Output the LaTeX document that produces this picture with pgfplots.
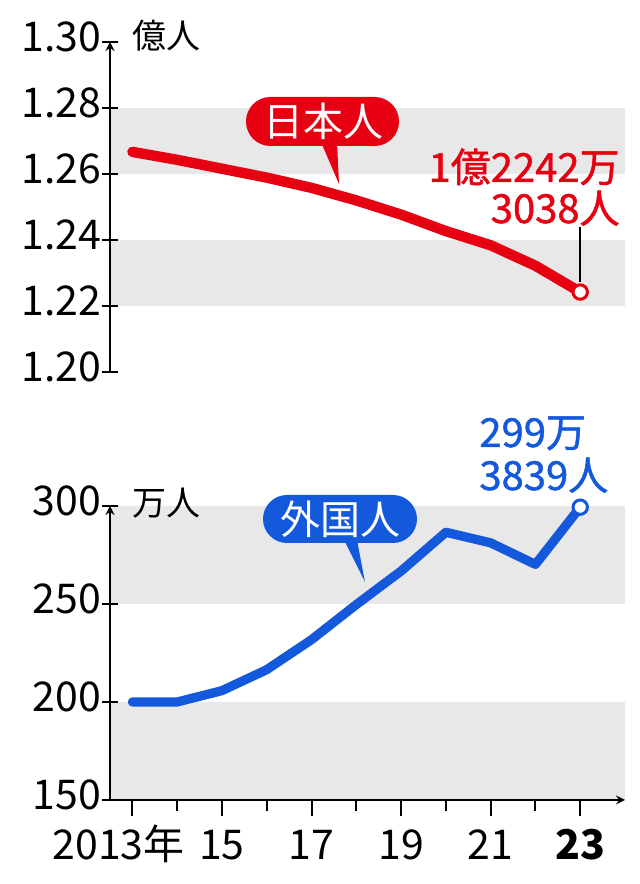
\documentclass[border=0pt]{standalone}
\usepackage{fontspec}
\setmainfont{Noto Sans CJK JP}
\newfontfamily\labfam{Noto Sans CJK JP}[FakeBold=1.2]
\usepackage{pgfplots}
\pgfplotsset{compat=1.18}

\definecolor{jred}{HTML}{E60012}
\definecolor{jblue}{HTML}{1459DC}
\definecolor{band}{HTML}{E8E8E8}

\newcommand\tickf{\fontsize{20.5}{24}\selectfont}
\newcommand\bubf{\fontsize{20}{24}\selectfont}
\newcommand\labf{\labfam\fontsize{20}{24}\selectfont}
\newcommand\unitf{\fontsize{17}{20}\selectfont}

% x is the year within 2000s (13 = 2013)
\pgfplotsset{
  panel/.style={
    scale only axis,
    width=257.5pt,
    xmin=12.5, xmax=24,
    axis on top,
    clip=false,
    axis line style={-, line width=1pt, black},
    tick style={line width=1pt, black},
    major tick length=8pt,
    minor tick length=5.5pt,
    ytick align=inside,
    ticklabel style={font=\tickf},
    yticklabel style={xshift=3pt, yshift=2.5pt},
  }
}

\begin{document}
\begin{tikzpicture}
\useasboundingbox (0,0) rectangle (320pt,442pt);

% Japanese nationals, in 100 millions
\begin{axis}[panel,
  at={(55pt,256pt)}, anchor=south west,
  height=165pt,
  ymin=1.20, ymax=1.30,
  axis x line=none, axis y line=left,
  ytick={1.2,1.22,1.24,1.26,1.28,1.3},
  yticklabels={1.20,1.22,1.24,1.26,1.28,1.30},
]
\fill[band] (axis cs:12.5,1.26) rectangle (axis cs:24,1.28);
\fill[band] (axis cs:12.5,1.22) rectangle (axis cs:24,1.24);
\addplot[jred, line width=5.2pt, line join=round, line cap=round] coordinates {
  (13,1.2667) (14,1.2643) (15,1.2616) (16,1.2589) (17,1.2558)
  (18,1.2520) (19,1.2477) (20,1.2427) (21,1.2384) (22,1.2322)
  (23,1.22423)
};
\draw[black, line width=0.9pt] ([yshift=5pt]axis cs:23,1.22423) -- ([yshift=32.5pt]axis cs:23,1.22423);
\addplot[only marks, mark=*, mark size=3.6pt,
  mark options={fill=white, draw=jred, line width=1.5pt}] coordinates {(23,1.22423)};
\end{axis}

% foreign residents, in 10 thousands
\begin{axis}[panel,
  at={(55pt,42pt)}, anchor=south west,
  height=147pt,
  ymin=150, ymax=300,
  axis x line=bottom, axis y line=left,
  ytick={150,200,250,300},
  yticklabels={150,200,250,300},
  xtick={13,15,...,23},
  xticklabels={2013年\rule{13.7pt}{0pt},15,17,19,21,\textbf{23}},
  minor xtick={14,16,...,22},
  xtick align=outside,
  xticklabel style={anchor=base, yshift=-22pt},
]
\fill[band] (axis cs:12.5,250) rectangle (axis cs:24,300);
\fill[band] (axis cs:12.5,150) rectangle (axis cs:24,200);
\addplot[jblue, line width=4.6pt, line join=round, line cap=round] coordinates {
  (13,200.0) (14,200.0) (15,205.8) (16,216.5) (17,231.8)
  (18,249.7) (19,266.8) (20,286.6) (21,281.2) (22,270.2)
  (23,299.4)
};
\addplot[only marks, mark=*, mark size=3.6pt,
  mark options={fill=white, draw=jblue, line width=1.5pt}] coordinates {(23,299.4)};
\end{axis}

% units
\node[anchor=base west, inner sep=0pt, font=\unitf] at (66pt,417.5pt) {億人};
\node[anchor=base west, inner sep=0pt, font=\unitf] at (66pt,184pt) {万人};

% red bubble
\fill[jred, rounded corners=12.2pt] (123pt,369pt) rectangle (199.5pt,393.5pt);
\fill[jred] (160.5pt,371pt) -- (169.5pt,350pt) -- (168.5pt,371pt) -- cycle;
\node[white, font=\bubf, inner sep=0pt] at (161.5pt,381.25pt) {日本人};

% blue bubble
\fill[jblue, rounded corners=12pt] (131.5pt,170.5pt) rectangle (208.5pt,194.5pt);
\fill[jblue] (172pt,172pt) -- (182.5pt,151pt) -- (178.5pt,172pt) -- cycle;
\node[white, font=\bubf, inner sep=0pt] at (170pt,182.5pt) {外国人};

% end labels
\node[jred, anchor=base east, inner sep=0pt, font=\labf] at (310pt,351pt) {1億2242万};
\node[jred, anchor=base east, inner sep=0pt, font=\labf] at (310pt,330.5pt) {3038人};
\node[jblue, anchor=base west, inner sep=0pt, font=\labf] at (239.5pt,218.5pt) {299万};
\node[jblue, anchor=base west, inner sep=0pt, font=\labf] at (239.5pt,197pt) {3839人};
\end{tikzpicture}
\end{document}
